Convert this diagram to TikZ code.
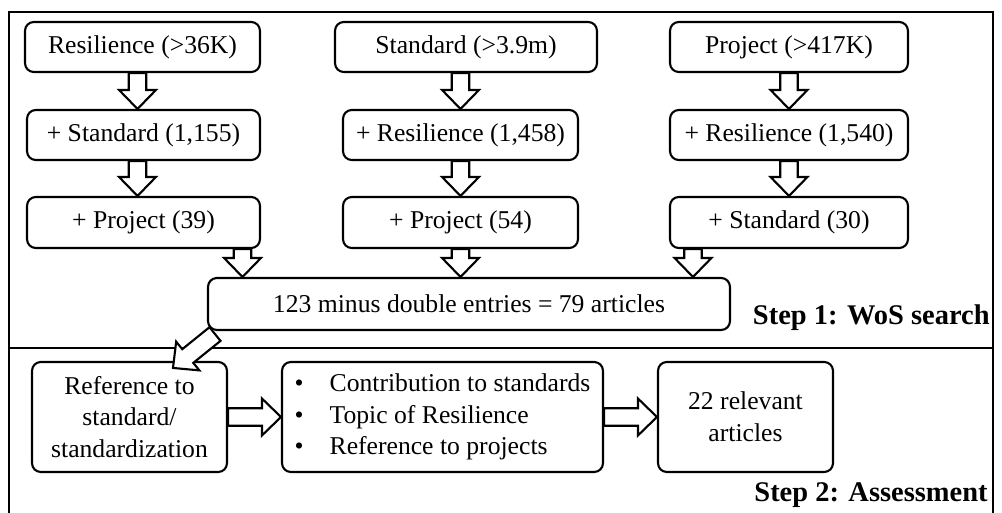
\documentclass[tikz,border=0pt]{standalone}
\usepackage{fontspec}
\setmainfont{Liberation Serif}
\usetikzlibrary{calc}
\tikzstyle{box} = [draw, line width=1.2, rounded corners=5pt, inner sep=0pt, align=center, font=\fontsize{14.6}{18}\selectfont]
\tikzstyle{fat} = [draw, fill=white, line width=1.2, line join=miter]
\tikzstyle{frame} = [line width=1.2]
\tikzstyle{steplabel} = [font=\fontsize{16.2}{19}\selectfont\bfseries, inner sep=0pt, anchor=base east]
\newcommand{\fatarrow}[2]{
\coordinate (h) at ($(#2)!10.8pt!(#1)$);
\draw[fat] ($(#1)!5pt!90:(#2)$) -- ($(h)!5pt!90:(#2)$) -- ($(h)!10.5pt!90:(#2)$) -- (#2) -- ($(h)!10.5pt!-90:(#2)$) -- ($(h)!5pt!-90:(#2)$) -- ($(#1)!5pt!-90:(#2)$) -- cycle;
}

\begin{document}
\begin{tikzpicture}[x=0.02cm, y=-0.02cm]
		\useasboundingbox (0,0) rectangle (1002,513);
		
		% Frame
		\draw[frame] (9,513) -- (9,12) -- (993,12) -- (993,513);
		\draw[frame] (9,348) -- (993,348);
		
		% Search boxes
		\node[box, minimum width=4.7cm, minimum height=1cm] (res) at (142.5,47) {Resilience (>36K)};
		\node[box, minimum width=4.66cm, minimum height=1cm] (resstd) at (143.5,135) {+ Standard (1,155)};
		\node[box, minimum width=4.66cm, minimum height=1.02cm] (resprj) at (143.5,222.5) {+ Project (39)};
		
		\node[box, minimum width=5.24cm, minimum height=1cm] (std) at (466,47) {Standard (>3.9m)};
		\node[box, minimum width=4.7cm, minimum height=1cm] (stdres) at (460.5,135) {+ Resilience (1,458)};
		\node[box, minimum width=4.7cm, minimum height=1.02cm] (stdprj) at (460.5,222.5) {+ Project (54)};
		
		\node[box, minimum width=4.76cm, minimum height=1cm] (prj) at (789,47) {Project (>417K)};
		\node[box, minimum width=4.76cm, minimum height=1cm] (prjres) at (789,135) {+ Resilience (1,540)};
		\node[box, minimum width=4.76cm, minimum height=1.02cm] (prjstd) at (789,222.5) {+ Standard (30)};
		
		\node[box, minimum width=10.44cm, minimum height=1.04cm] (merge) at (469,304) {123 minus double entries = 79 articles};
		
		% Assessment boxes
		\node[box, minimum width=3.9cm, minimum height=2.2cm] (ref) at (129.5,417) {Reference to\\standard/\\standardization};
		\node[box, minimum width=6.42cm, minimum height=2.2cm, align=left] (crit) at (442.5,417) {\makebox[20pt][l]{\textbullet}Contribution to standards\\\makebox[20pt][l]{\textbullet}Topic of Resilience\\\makebox[20pt][l]{\textbullet}Reference to projects};
		\node[box, minimum width=3.5cm, minimum height=2.2cm] (rel) at (745.5,417) {22 relevant\\articles};
		
		% Coordinates
		\coordinate (c1) at ($(res.south)+(-5,0)$);
		\coordinate (c2) at ($(resstd.south)+(-6,0)$);
		\coordinate (c3) at (stdres.north |- std.south);
		\coordinate (m1) at ($(resprj.south)+(99,0)$);
		\coordinate (m3) at ($(prjstd.south)+(-96,0)$);
		\coordinate (d1) at ($(merge.south west)+(8,3)$);
		\coordinate (d2) at ($(ref.north)+(43.5,7)$);
		
		% Arrows
		\fatarrow{c1}{c1 |- resstd.north}
		\fatarrow{c2}{c2 |- resprj.north}
		\fatarrow{c3}{stdres.north}
		\fatarrow{stdres.south}{stdprj.north}
		\fatarrow{prj.south}{prjres.north}
		\fatarrow{prjres.south}{prjstd.north}
		\fatarrow{m1}{m1 |- merge.north}
		\fatarrow{stdprj.south}{stdprj.south |- merge.north}
		\fatarrow{m3}{m3 |- merge.north}
		\fatarrow{d1}{d2}
		\fatarrow{ref.east}{crit.west}
		\fatarrow{crit.east}{rel.west}
		
		% Labels
		\node[steplabel] (s1) at (990,325) {Step 1: WoS search};
		\node[steplabel] (s2) at (988,502) {Step 2: Assessment};
	\end{tikzpicture}
\end{document}
